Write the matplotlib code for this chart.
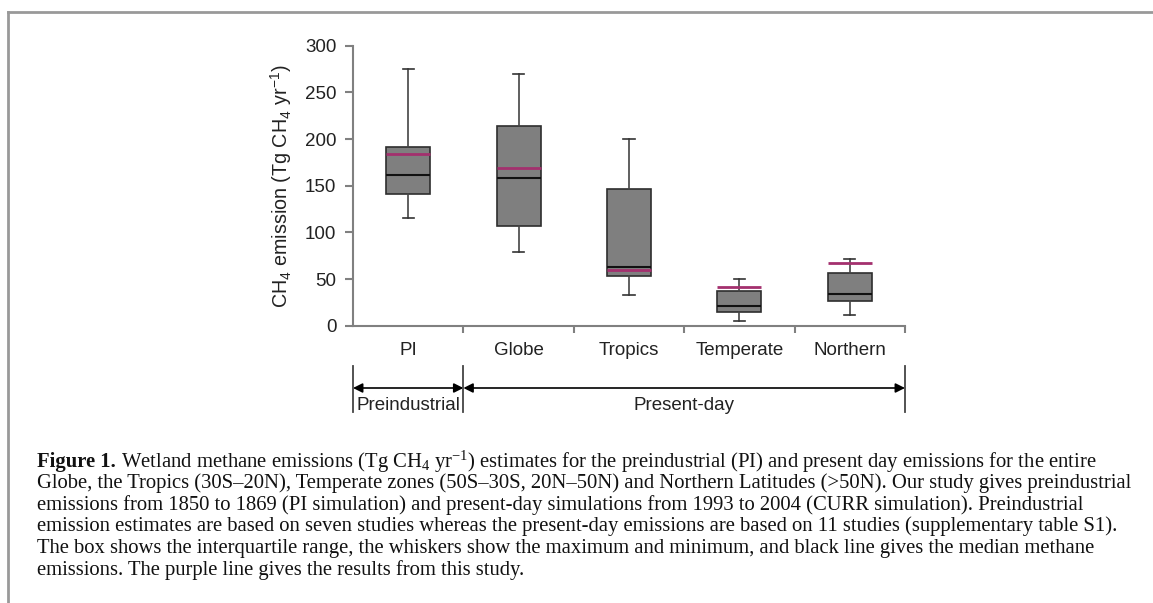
import matplotlib
matplotlib.use("Agg")
import matplotlib.pyplot as plt
import matplotlib.transforms as mtransforms
from matplotlib.lines import Line2D

# box statistics (Tg CH4 / yr)
categories = ["PI", "Globe", "Tropics", "Temperate", "Northern"]
whisker_lo = [115, 79, 33, 5, 12]
q1 = [141, 107, 53, 15, 26]
median = [162, 158, 63, 21, 34]
q3 = [192, 214, 146, 37, 56]
whisker_hi = [275, 270, 200, 50, 71]
this_study = [184, 169, 60, 41, 67]

# period brackets below the axis: (label, first category, last category)
periods = [("Preindustrial", 0, 0), ("Present-day", 1, 4)]

caption_lines = [
    r"Wetland methane emissions (Tg $\mathregular{CH_4}$ $\mathregular{yr^{-1}}$) estimates for the preindustrial (PI) and present day emissions for the entire",
    "Globe, the Tropics (30S\u201320N), Temperate zones (50S\u201330S, 20N\u201350N) and Northern Latitudes (>50N). Our study gives preindustrial",
    "emissions from 1850 to 1869 (PI simulation) and present-day simulations from 1993 to 2004 (CURR simulation). Preindustrial",
    "emission estimates are based on seven studies whereas the present-day emissions are based on 11 studies (supplementary table S1).",
    "The box shows the interquartile range, the whiskers show the maximum and minimum, and black line gives the median methane",
    "emissions. The purple line gives the results from this study.",
]

SANS = "Liberation Sans"
SERIF = "Liberation Serif"
AXIS_GREY = "#808080"
PURPLE = "#a3306e"
TXT = "#222222"

W, H = 1153, 603
fig = plt.figure(figsize=(W / 100, H / 100), dpi=100)
ax = fig.add_axes([353 / W, 1 - 325.7 / H, (905 - 353) / W, (325.7 - 45.7) / H])

stats = []
for i, name in enumerate(categories):
    stats.append(
        dict(label=name, whislo=whisker_lo[i], q1=q1[i], med=median[i],
             q3=q3[i], whishi=whisker_hi[i], fliers=[])
    )

pos = list(range(len(categories)))
ax.bxp(
    stats,
    positions=pos,
    widths=0.4,
    capwidths=0.1,
    patch_artist=True,
    showfliers=False,
    boxprops=dict(facecolor="#7f7f7f", edgecolor="#2e2e2e", linewidth=1.2),
    medianprops=dict(color="#111111", linewidth=1.5),
    whiskerprops=dict(color="#444444", linewidth=1.2),
    capprops=dict(color="#333333", linewidth=1.2),
)
ax.hlines(this_study, [p - 0.2 for p in pos], [p + 0.2 for p in pos],
          color=PURPLE, linewidth=2, zorder=5)

ax.set_xlim(-0.5, len(categories) - 0.5)
ax.set_ylim(0, 300)
ax.set_yticks(range(0, 301, 50))
ax.set_xticks(pos)
ax.set_xticklabels(categories)
ax.set_xticks([p + 0.5 for p in pos], minor=True)

for side in ("top", "right"):
    ax.spines[side].set_visible(False)
for side in ("left", "bottom"):
    ax.spines[side].set_color(AXIS_GREY)
    ax.spines[side].set_linewidth(1.5)

ax.tick_params(axis="y", length=6, width=1.5, color=AXIS_GREY, pad=6,
               labelsize=13.5, labelcolor=TXT)
ax.tick_params(axis="x", which="major", length=0, pad=12,
               labelsize=13.5, labelcolor=TXT)
ax.tick_params(axis="x", which="minor", length=5, width=1.5, color=AXIS_GREY)
for lab in ax.get_xticklabels() + ax.get_yticklabels():
    lab.set_fontfamily(SANS)

ax.set_ylabel(r"$\mathregular{CH_4}$ emission (Tg $\mathregular{CH_4}$ $\mathregular{yr^{-1}}$)",
              fontsize=14.2, family=SANS, color=TXT, labelpad=8)

# brackets with double arrows under the category labels
trans = mtransforms.blended_transform_factory(ax.transData, fig.transFigure)
y_top, y_bot = 1 - 366 / H, 1 - 412 / H
y_arrow, y_text = 1 - 388 / H, 1 - 405 / H
edges = sorted({periods[0][1] - 0.5} | {last + 0.5 for _, _, last in periods})
for xe in edges:
    fig.add_artist(Line2D([xe, xe], [y_bot, y_top], transform=trans,
                          color="#444444", linewidth=1.3))
for label, first, last in periods:
    x0, x1 = first - 0.5, last + 0.5
    ax.annotate("", xy=(x1, y_arrow), xytext=(x0, y_arrow),
                xycoords=trans, textcoords=trans, annotation_clip=False,
                arrowprops=dict(arrowstyle="<|-|>", color="black", lw=1.2,
                                mutation_scale=14, shrinkA=0, shrinkB=0))
    ax.text((x0 + x1) / 2, y_text, label, transform=trans, ha="center",
            va="center", fontsize=13.5, family=SANS, color=TXT)

# frame around the figure block
fig.add_artist(Line2D([8 / W, 1], [1 - 12 / H] * 2, transform=fig.transFigure,
                      color="#999999", linewidth=2))
fig.add_artist(Line2D([8 / W, 8 / W], [0, 1 - 12 / H], transform=fig.transFigure,
                      color="#999999", linewidth=2))

# caption
cap_size = 14.9
x_cap = 37 / W
y0, dy = 461.5, 21.7
bold = fig.text(x_cap, 1 - y0 / H, "Figure 1.", family=SERIF, weight="bold",
                fontsize=cap_size, va="center", color="#111111")
ax.annotate(" " + caption_lines[0], xy=(1, 0.5), xycoords=bold, va="center",
            ha="left", family=SERIF, fontsize=cap_size, color="#111111",
            annotation_clip=False)
for k, line in enumerate(caption_lines[1:], start=1):
    fig.text(x_cap, 1 - (y0 + k * dy) / H, line, family=SERIF,
             fontsize=cap_size, va="center", color="#111111")

fig.savefig("out.png", dpi=100)
